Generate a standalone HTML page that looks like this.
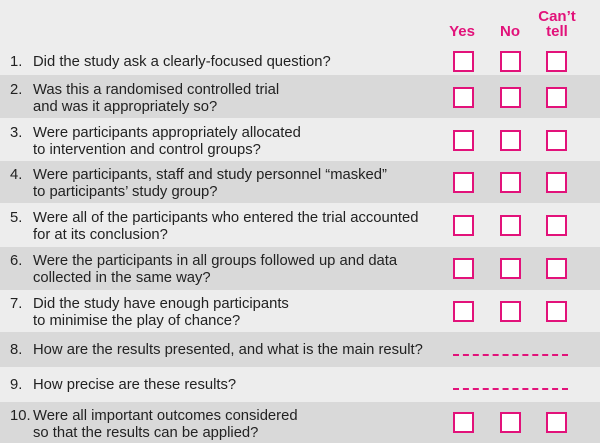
<!DOCTYPE html>
<html><head><meta charset="utf-8"><style>
body{margin:0;width:600px;height:443px;overflow:hidden;background:#ededed;font-family:"Liberation Sans",Arial,sans-serif;}
.r{position:absolute;left:0;width:600px;}
.l{background:#ededed}.d{background:#d9d9d9}
.t{position:absolute;left:33px;font-size:14.8px;line-height:17px;color:#222;white-space:nowrap}
.n{position:absolute;left:10px;font-size:14.8px;line-height:17px;color:#222}
.b{position:absolute;width:17px;height:17px;border:2px solid #e2127a;background:#fff}
.h{position:absolute;color:#e2127a;font-weight:bold;font-size:15px;line-height:15px;text-align:center}
.dash{position:absolute;left:453px;width:115px;border-top:2px dashed #e2127a}
</style></head><body>
<div class="h" style="left:444px;top:24px;width:36px">Yes</div>
<div class="h" style="left:493px;top:24px;width:34px">No</div>
<div class="h" style="left:536px;top:9px;width:42px">Can’t<br>tell</div>
<div class="r l" style="top:46px;height:29px"></div>
<div class="r d" style="top:75px;height:43px"></div>
<div class="r l" style="top:118px;height:43px"></div>
<div class="r d" style="top:161px;height:42px"></div>
<div class="r l" style="top:203px;height:44px"></div>
<div class="r d" style="top:247px;height:43px"></div>
<div class="r l" style="top:290px;height:42px"></div>
<div class="r d" style="top:332px;height:35px"></div>
<div class="r l" style="top:367px;height:35px"></div>
<div class="r d" style="top:402px;height:41px"></div>

<div class="n" style="top:54px">1.</div><div class="t" style="top:54px">Did the study ask a clearly-focused question?</div>
<div class="n" style="top:82px">2.</div><div class="t" style="top:82px">Was this a randomised controlled trial<br>and was it appropriately so?</div>
<div class="n" style="top:125px">3.</div><div class="t" style="top:125px">Were participants appropriately allocated<br>to intervention and control groups?</div>
<div class="n" style="top:167px">4.</div><div class="t" style="top:167px">Were participants, staff and study personnel “masked”<br>to participants’ study group?</div>
<div class="n" style="top:210px">5.</div><div class="t" style="top:210px">Were all of the participants who entered the trial accounted<br>for at its conclusion?</div>
<div class="n" style="top:253px">6.</div><div class="t" style="top:253px">Were the participants in all groups followed up and data<br>collected in the same way?</div>
<div class="n" style="top:296px">7.</div><div class="t" style="top:296px">Did the study have enough participants<br>to minimise the play of chance?</div>
<div class="n" style="top:342px">8.</div><div class="t" style="top:342px">How are the results presented, and what is the main result?</div>
<div class="n" style="top:377px">9.</div><div class="t" style="top:377px">How precise are these results?</div>
<div class="n" style="top:408px">10.</div><div class="t" style="top:408px">Were all important outcomes considered<br>so that the results can be applied?</div>

<div class="dash" style="top:354px"></div>
<div class="dash" style="top:388px"></div>

<div class="b" style="left:453px;top:51px"></div><div class="b" style="left:500px;top:51px"></div><div class="b" style="left:546px;top:51px"></div>
<div class="b" style="left:453px;top:87px"></div><div class="b" style="left:500px;top:87px"></div><div class="b" style="left:546px;top:87px"></div>
<div class="b" style="left:453px;top:130px"></div><div class="b" style="left:500px;top:130px"></div><div class="b" style="left:546px;top:130px"></div>
<div class="b" style="left:453px;top:172px"></div><div class="b" style="left:500px;top:172px"></div><div class="b" style="left:546px;top:172px"></div>
<div class="b" style="left:453px;top:215px"></div><div class="b" style="left:500px;top:215px"></div><div class="b" style="left:546px;top:215px"></div>
<div class="b" style="left:453px;top:258px"></div><div class="b" style="left:500px;top:258px"></div><div class="b" style="left:546px;top:258px"></div>
<div class="b" style="left:453px;top:301px"></div><div class="b" style="left:500px;top:301px"></div><div class="b" style="left:546px;top:301px"></div>
<div class="b" style="left:453px;top:412px"></div><div class="b" style="left:500px;top:412px"></div><div class="b" style="left:546px;top:412px"></div>
</body></html>
